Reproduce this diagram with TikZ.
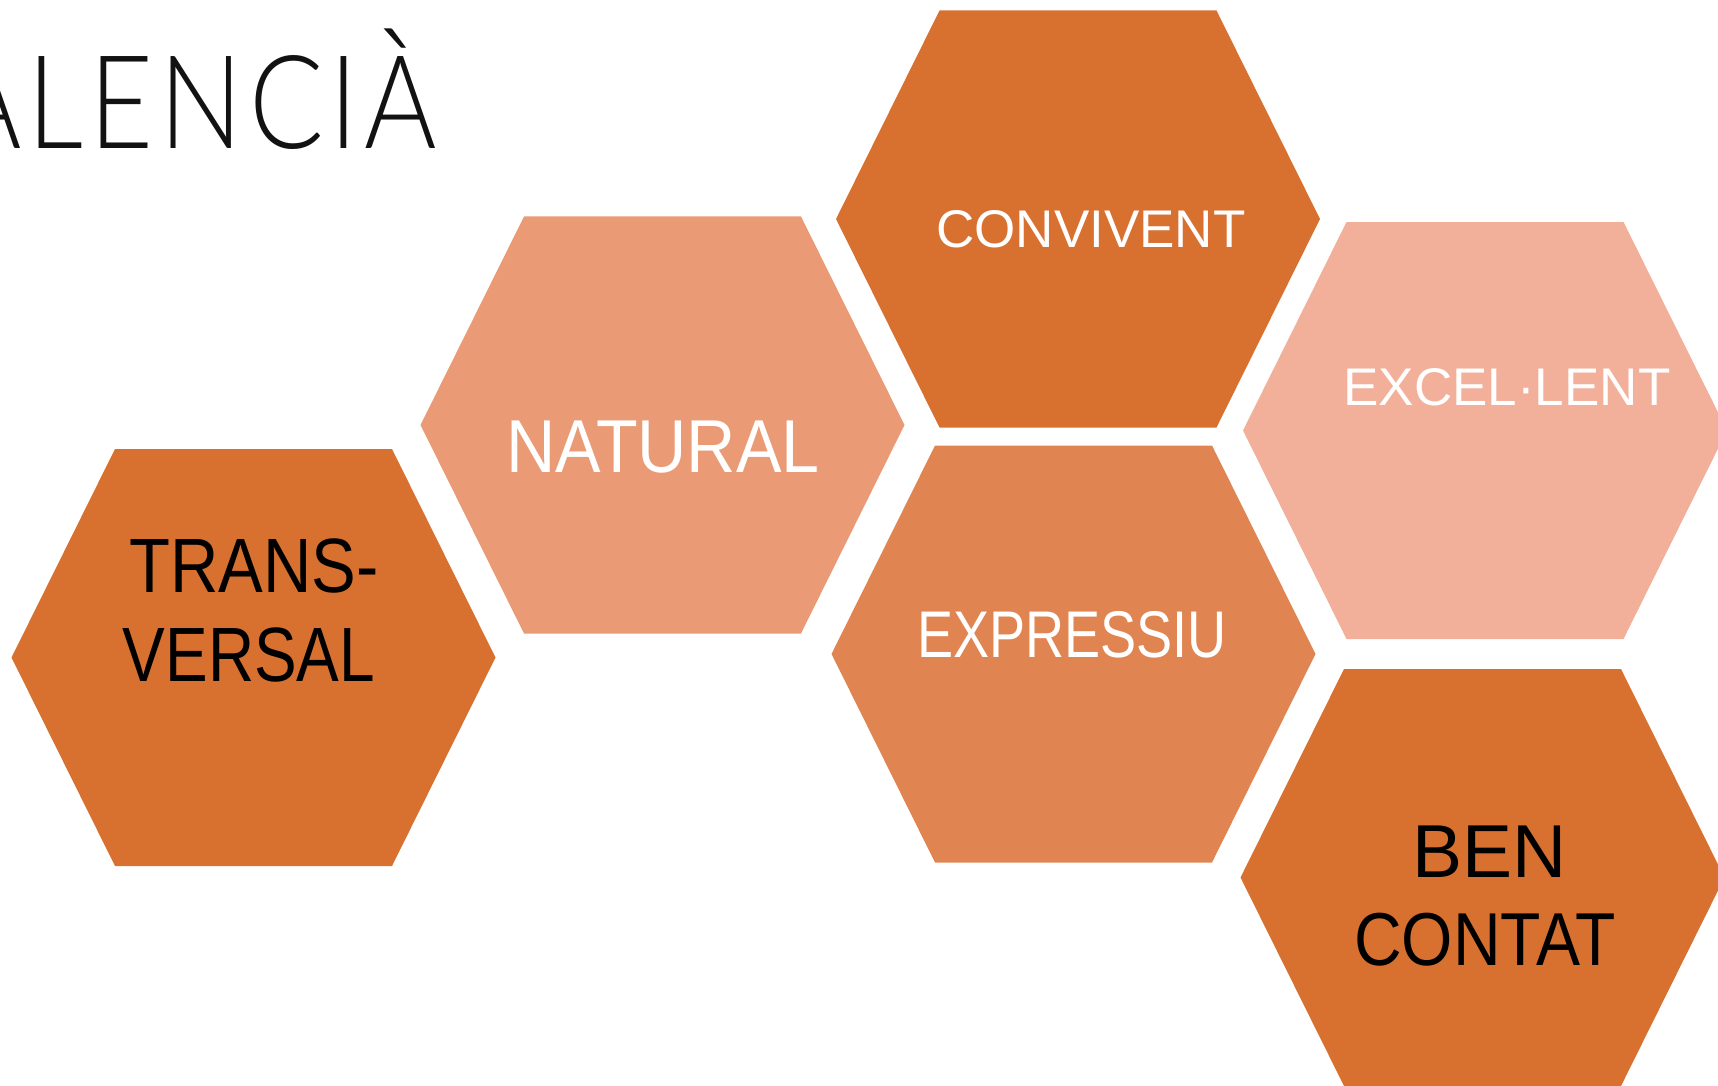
\documentclass[tikz,border=0pt]{standalone}
\usepackage{fontspec}
\usepackage{graphicx}
\setmainfont{Liberation Sans}
\newfontfamily\titlefont{Lato Light}
\definecolor{hexdark}{HTML}{D87030}
\definecolor{hexnat}{HTML}{EA9A74}
\definecolor{hexexp}{HTML}{E08552}
\definecolor{hexexc}{HTML}{F2B09A}
\tikzset{
  hexlabel/.style={align=center, inner sep=0pt, font=\fontsize{#1}{89}\selectfont},
  whitelabel/.style={hexlabel=#1, text=white},
  blacklabel/.style={hexlabel=#1, text=black},
}
\newcommand{\hexagonat}[3]{%
  \fill[#3, shift={(#1,#2)}] (-242,0) -- (-138.5,-208.5) -- (138.5,-208.5) -- (242,0) -- (138.5,208.5) -- (-138.5,208.5) -- cycle;}
\newcommand{\narrow}[2]{\scalebox{#1}[1]{#2}}
\newcommand{\tk}{\kern7pt}
\begin{document}
\begin{tikzpicture}[x=1pt,y=-1pt]
\useasboundingbox (0,0) rectangle (1718,1086);
\begin{scope}
\clip (0,0) rectangle (1718,1086);
\hexagonat{253.5}{657.5}{hexdark}
\hexagonat{662.5}{425}{hexnat}
\hexagonat{1078}{219}{hexdark}
\hexagonat{1073.5}{654}{hexexp}
\hexagonat{1485}{430.5}{hexexc}
\hexagonat{1482.5}{877.5}{hexdark}
\node[anchor=base east, inner sep=0pt, font=\titlefont\fontsize{130}{130}\selectfont, text=black!93] (title) at (437,149) {\narrow{0.85}{V\tk A\tk L\tk E\tk N\tk C\tk I\tk À}};
\end{scope}
\node[whitelabel=53, anchor=base] (convivent) at (1091,247) {CONVIVENT};
\node[whitelabel=75, anchor=base] (natural) at (663,472) {\narrow{0.91}{NATURAL}};
\node[whitelabel=53, anchor=base] (excellent) at (1507,405) {EXCEL·LENT};
\node[whitelabel=66, anchor=base] (expressiu) at (1072,657) {\narrow{0.82}{EXPRESSIU}};
\node[blacklabel=77, anchor=base] (trans) at (254,592) {\narrow{0.87}{TRANS-}};
\node[blacklabel=77, anchor=base] (versal) at (249,681) {\narrow{0.83}{VERSAL}};
\node[blacklabel=75, anchor=base] (ben) at (1490,877) {BEN};
\node[blacklabel=75, anchor=base] (contat) at (1485,965) {\narrow{0.88}{CONTAT}};
\end{tikzpicture}
\end{document}
